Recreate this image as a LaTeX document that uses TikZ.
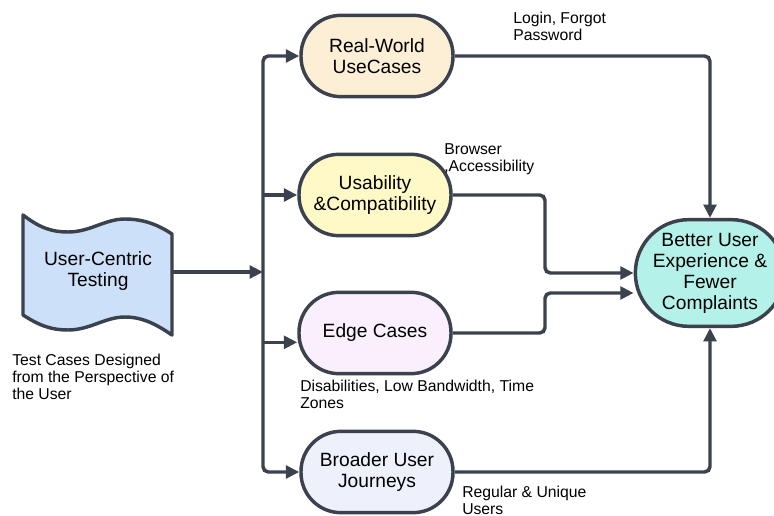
\documentclass[tikz,border=0pt]{standalone}
\usepackage{fontspec}
\setmainfont{Liberation Sans}
\usetikzlibrary{arrows.meta}
\definecolor{linegray}{HTML}{3B424D}
\definecolor{wavefill}{HTML}{CDE0FA}
\definecolor{realfill}{HTML}{FDEFD6}
\definecolor{usefill}{HTML}{FEF9C6}
\definecolor{edgefill}{HTML}{FAEFFC}
\definecolor{broadfill}{HTML}{EEF0FC}
\definecolor{goalfill}{HTML}{B4F1E8}
\begin{document}
\begin{tikzpicture}[x=0.75pt,y=-0.75pt,
  box/.style={draw=linegray, line width=2.6pt, rounded corners=30pt,
    minimum width=114pt, minimum height=61pt, align=center, inner sep=0pt,
    font=\fontsize{14.4}{15.75}\selectfont},
  note/.style={anchor=north west, align=left, inner sep=0pt,
    font=\fontsize{11.8}{12.75}\selectfont},
  flow/.style={draw=linegray, line width=2.6pt, rounded corners=4pt,
    -{Triangle[length=10pt,width=9.5pt]}}]
\useasboundingbox (0,0) rectangle (774,516);

% wavy input shape
\draw[linegray, line width=2.6pt, line join=round, fill=wavefill]
  (23,215) .. controls (40,228) and (52,232) .. (68,232)
  .. controls (90,232) and (105,219) .. (125,219)
  .. controls (145,219) and (160,226) .. (172,234)
  -- (172,335)
  .. controls (160,327) and (145,317) .. (125,317)
  .. controls (105,317) and (90,330) .. (68,330)
  .. controls (52,330) and (40,326) .. (23,315) -- cycle;
\node[align=center, font=\fontsize{14.4}{15.75}\selectfont] (uc) at (98,271) {User-Centric\\Testing};
\coordinate (ucout) at (172,272);
\coordinate (split) at (263,272);

\node[box, fill=realfill] (rw) at (377,56) {Real-World\\UseCases};
\node[box, fill=usefill] (ub) at (375,195) {Usability\\\&Compatibility};
\node[box, fill=edgefill] (ec) at (375,333) {Edge Cases};
\node[box, fill=broadfill] (br) at (377,472) {Broader User\\Journeys};
\node[box, fill=goalfill, minimum width=112pt, minimum height=80pt,
  rounded corners=40pt] (bu) at (710,273) {Better User\\Experience \&\\Fewer\\Complaints};

\node[note] (n1) at (513,12) {Login, Forgot\\Password};
\node[note] (n2) at (444,143) {Browser\\,Accessibility};
\node[note] (n3) at (300,380) {Disabilities, Low Bandwidth, Time\\Zones};
\node[note] (n4) at (462,486) {Regular \& Unique\\Users};
\node[note] (n5) at (12,354) {Test Cases Designed\\from the Perspective of\\the User};

% fan out
\draw[flow] (ucout) -- (split);
\draw[flow] (split) |- (rw.west);
\draw[flow] (split) |- (br.west);
\draw[flow] (split |- ub.west) -- (ub.west);
\coordinate (ecin) at ([yshift=-7pt]ec.west);
\draw[flow] (split |- ecin) -- (ecin);

% fan in
\coordinate (jog) at (545,0);
\coordinate (buin) at ([yshift=-15pt]bu.west);
\draw[flow] (rw.east) -| (bu.north);
\draw[flow] (br.east) -| (bu.south);
\draw[flow] (ub.east) -| (jog |- bu.west) -- (bu.west);
\draw[flow] (ec.east) -| (jog |- buin) -- (buin);
\end{tikzpicture}
\end{document}
